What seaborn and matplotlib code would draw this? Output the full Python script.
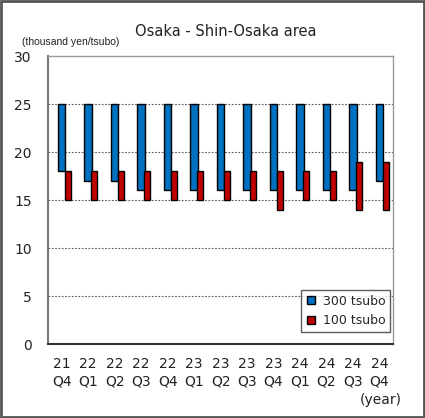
import numpy as np
import matplotlib
matplotlib.use("Agg")
import matplotlib.pyplot as plt
import seaborn as sns
from matplotlib.patches import Rectangle
from matplotlib.lines import Line2D

sns.set_style("white")
plt.rcParams['font.family'] = ['DejaVu Sans']

years = ["21", "22", "22", "22", "22", "23", "23", "23", "23", "24", "24", "24", "24"]
quarters = ["Q4", "Q1", "Q2", "Q3", "Q4", "Q1", "Q2", "Q3", "Q4", "Q1", "Q2", "Q3", "Q4"]
big_low = [18, 17, 17, 16, 16, 16, 16, 16, 16, 16, 16, 16, 17]
big_high = [25, 25, 25, 25, 25, 25, 25, 25, 25, 25, 25, 25, 25]
small_low = [15, 15, 15, 15, 15, 15, 15, 15, 14, 15, 15, 14, 14]
small_high = [18, 18, 18, 18, 18, 18, 18, 18, 18, 18, 18, 19, 19]

blue = "#0070C0"
red = "#C00000"

fig = plt.figure(figsize=(4.25, 4.18), dpi=100)
ax = fig.add_axes([0.114, 0.177, 0.81, 0.689])

x = np.arange(len(years))
lo1, hi1 = np.array(big_low), np.array(big_high)
lo2, hi2 = np.array(small_low), np.array(small_high)
ax.bar(x, hi1 - lo1, bottom=lo1, width=0.28, color=blue, edgecolor="black", linewidth=1.0, zorder=3)
ax.bar(x + 0.235, hi2 - lo2, bottom=lo2, width=0.23, color=red, edgecolor="black", linewidth=1.0, zorder=3)

ax.set_xlim(-0.5, len(years) - 0.5)
ax.set_ylim(0, 30)
ax.set_yticks(range(0, 31, 5))
ax.tick_params(axis="y", length=0, pad=12, labelsize=10, labelcolor="#222222")
ax.set_xticks(x)
ax.set_xticklabels([f"{y}\n{q}" for y, q in zip(years, quarters)], fontsize=10, linespacing=1.4,
                   color="#222222")
ax.tick_params(axis="x", length=0, pad=9)
ax.set_xticks(np.arange(0.5, len(years) - 1, 1), minor=True)
ax.tick_params(axis="x", which="minor", direction="in", length=4, color="#222222", width=1)

for v in range(5, 30, 5):
    ax.axhline(v, color="#555555", linestyle=(0, (1.5, 1.5)), linewidth=0.8, zorder=1)

for side in ["top", "right"]:
    ax.spines[side].set_color("#999999")
    ax.spines[side].set_linewidth(1.0)
ax.spines["left"].set_color("#777777")
ax.spines["left"].set_linewidth(1.5)
ax.spines["bottom"].set_color("#333333")
ax.spines["bottom"].set_linewidth(1.5)

fig.text(0.532, 0.925, "Osaka - Shin-Osaka area", ha="center", va="center", fontsize=10.5, color="#222222")
fig.text(0.052, 0.9, "(thousand yen/tsubo)", ha="left", va="center", fontsize=7.5,
         family=["Liberation Sans", "DejaVu Sans"], color="#222222")
fig.text(0.945, 0.043, "(year)", ha="right", va="center", fontsize=10, color="#222222")

handles = [Line2D([], [], marker="s", linestyle="none", markersize=6, markerfacecolor=c,
                  markeredgecolor="black", markeredgewidth=1.0) for c in (blue, red)]
leg = ax.legend(handles, ["300 tsubo", "100 tsubo"], loc="lower right", bbox_to_anchor=(0.993, 0.042),
                fontsize=9, frameon=True, fancybox=False, handlelength=0.8, handletextpad=0.5,
                borderpad=0.4, labelspacing=0.5, borderaxespad=0)
leg.get_frame().set_edgecolor("#333333")
leg.get_frame().set_linewidth(1.0)

fig.patches.append(Rectangle((0.002, 0.002), 0.996, 0.996, transform=fig.transFigure,
                             fill=False, edgecolor="#555555", linewidth=2))

fig.savefig("out.png", dpi=100)
